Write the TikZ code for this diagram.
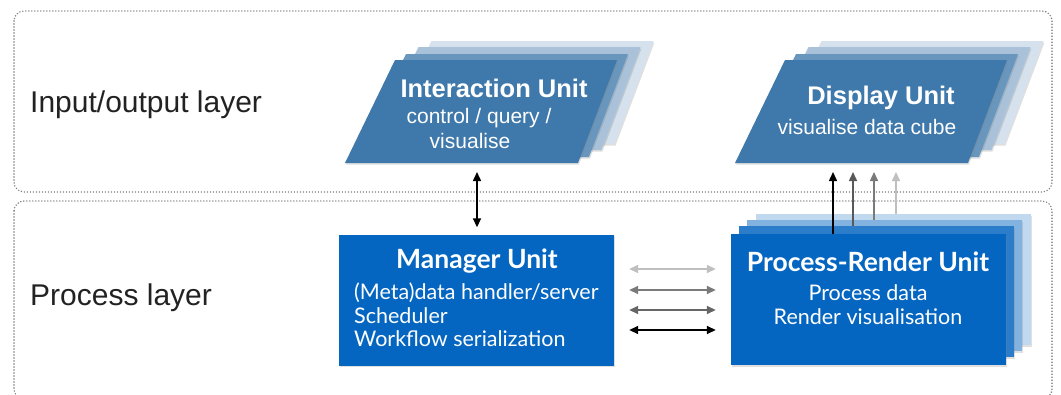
\documentclass[tikz,border=0pt]{standalone}
\usepackage{fontspec}
\setmainfont{Liberation Sans}
\newfontfamily\avfont{Lato}
\usetikzlibrary{arrows.meta,shadows}
\definecolor{iblue}{HTML}{3F78AA}
\definecolor{mblue}{HTML}{0566C1}
\definecolor{dotgray}{HTML}{7A7A7A}
\definecolor{txtdark}{HTML}{222222}
\begin{document}
\begin{tikzpicture}[x=1pt,y=-1pt,
  layerbox/.style={draw=dotgray, line width=1.6pt, dash pattern=on 0pt off 3pt, line cap=round, rounded corners=10pt},
  layerlabel/.style={anchor=west, inner sep=0pt, text=txtdark, font=\fontsize{30}{34}\selectfont},
  sh/.style={drop shadow={shadow xshift=1pt, shadow yshift=-1.5pt, opacity=0.25}},
  ptitle/.style={inner sep=0pt, text=white, font=\bfseries\fontsize{25.5}{29}\selectfont},
  psub/.style={inner sep=0pt, text=white, font=\fontsize{21}{25}\selectfont},
  boxnode/.style={rectangle, inner sep=0pt, minimum width=275pt, minimum height=131pt},
  btitle/.style={inner sep=0pt, text=white, font=\avfont\bfseries\fontsize{26.5}{30}\selectfont},
  bsub/.style={inner sep=0pt, text=white, font=\avfont\fontsize{21.5}{25}\selectfont},
  arr/.style={line width=1.5pt, -{Triangle[length=9pt,width=8pt]}},
  darr/.style={line width=1.5pt, {Triangle[length=9pt,width=8pt]}-{Triangle[length=9pt,width=8pt]}}
]
\useasboundingbox (0,0) rectangle (1061,394);

% layers
\draw[layerbox] (14,11) rectangle (1052,192);
\draw[layerbox] (14,201) rectangle (1052,399);
\node[layerlabel] (iol) at (30,105) {Input/output layer};
\node[layerlabel] (pl) at (30,298) {Process layer};

% Interaction unit (stacked parallelograms)
\foreach \dx/\dy/\c in {36.5/19/iblue!22, 23.5/13/iblue!45, 11/6/iblue!78}{
  \fill[\c, sh] (395+\dx,60-\dy) -- (617+\dx,60-\dy) -- (578+\dx,163-\dy) -- (345+\dx,163-\dy) -- cycle;
}
\fill[iblue, sh] (395,60) -- (617,60) -- (578,163) -- (345,163) -- cycle;
\node[ptitle] (iut) at (494,88) {Interaction Unit};
\node[psub] (ius1) at (479,118) {control / query /};
\node[psub] (ius2) at (470,141) {visualise};
\coordinate (iuB) at (477,163);

% Display unit
\foreach \dx/\dy/\c in {36.5/19/iblue!22, 23.5/13/iblue!45, 11/6/iblue!78}{
  \fill[\c, sh] (785+\dx,60-\dy) -- (1007+\dx,60-\dy) -- (968+\dx,163-\dy) -- (735+\dx,163-\dy) -- cycle;
}
\fill[iblue, sh] (785,60) -- (1007,60) -- (968,163) -- (735,163) -- cycle;
\node[ptitle] (dut) at (881,98) {Display Unit};
\node[psub] (dus) at (867,127) {visualise data cube};
\coordinate (duB) at (860,163);

% Manager unit
\node[boxnode, fill=mblue, sh] (mu) at (476.5,300) {};
\node[btitle] (mut) at (477,261) {Manager Unit};
\node[bsub, anchor=west] (mus1) at (354,293) {(Meta)data handler/server};
\node[bsub, anchor=west] (mus2) at (354,316) {Scheduler};
\node[bsub, anchor=west] (mus3) at (354,339) {Workflow serialization};

% Process-Render unit
\node[boxnode, fill=mblue!25, sh] (pr4) at (893.5,279.5) {};
\node[boxnode, fill=mblue!50, sh] (pr3) at (884.5,285.5) {};
\node[boxnode, fill=mblue!85, sh] (pr2) at (876.5,291.5) {};
\node[boxnode, fill=mblue, sh] (pr) at (868.5,299.5) {};
\node[btitle] (prt) at (868,262) {Process-Render Unit};
\node[bsub] (prs1) at (868,293) {Process data};
\node[bsub] (prs2) at (868,317) {Render visualisation};

% connectors
\draw[darr, black, shorten <=9pt, shorten >=7pt] (iuB) -- (iuB |- mu.north);

\draw[darr, black!25, shorten <=15pt, shorten >=15pt] (mu.east |- 0,269) -- (pr.west |- 0,269);
\draw[darr, black!52, shorten <=15pt, shorten >=15pt] (mu.east |- 0,290) -- (pr.west |- 0,290);
\draw[darr, black!60, shorten <=15pt, shorten >=15pt] (mu.east |- 0,310) -- (pr.west |- 0,310);
\draw[darr, black, shorten <=15pt, shorten >=15pt] (mu.east |- 0,330) -- (pr.west |- 0,330);

\draw[arr, black, shorten >=9pt] (pr.north -| 833,0) -- (duB -| 833,0);
\draw[arr, black!65, shorten >=9pt] (pr2.north -| 853,0) -- (duB -| 853,0);
\draw[arr, black!52, shorten >=9pt] (pr3.north -| 874,0) -- (duB -| 874,0);
\draw[arr, black!25, shorten >=9pt] (pr4.north -| 896,0) -- (duB -| 896,0);
\end{tikzpicture}
\end{document}
